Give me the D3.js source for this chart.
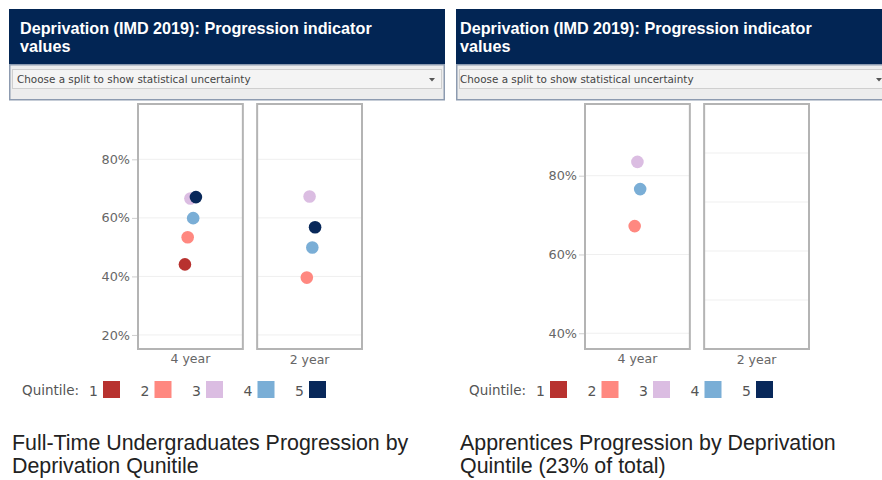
<!DOCTYPE html>
<html>
<head>
<meta charset="utf-8">
<script src="https://cdn.jsdelivr.net/npm/d3@7.9.0/dist/d3.min.js"></script>
<style>
  body { margin: 0; background: #fff; }
  svg { display: block; font-family: "Liberation Sans", Arial, sans-serif; }
  .chartfont { font-family: "DejaVu Sans", Verdana, sans-serif; }
</style>
</head>
<body>
<svg id="chart" width="882" height="480"></svg>
<script>
// quintile keys and colours
const quintiles = [1, 2, 3, 4, 5];
const quintileColors = ["#b8322f", "#ff8880", "#dbbde2", "#7aaed6", "#08285a"];
const modes = ["4 year", "2 year"];

// progression values by quintile (null = not shown)
const ftFourYear = [0.441, 0.534, 0.666, 0.599, 0.671];
const ftTwoYear = [null, 0.396, 0.673, 0.499, 0.568];
const appFourYear = [null, 0.672, 0.835, 0.766, null];
const appTwoYear = [null, null, null, null, null];

const headerText = ["Deprivation (IMD 2019): Progression indicator", "values"];
const dropdownText = "Choose a split to show statistical uncertainty";

const panels = [
  {
    x0: 9, indent: 11, selIndent: 8, titleIndent: 3,
    series: [ftFourYear, ftTwoYear],
    domain: [0.152, 0.989],
    ticks: [0.2, 0.4, 0.6, 0.8],
    shared: true,
    title: ["Full-Time Undergraduates Progression by", "Deprivation Qunitile"]
  },
  {
    x0: 456, indent: 4, selIndent: 4, titleIndent: 4,
    series: [appFourYear, appTwoYear],
    domain: [0.36, 0.982],
    ticks: [0.4, 0.6, 0.8],
    shared: false,
    title: ["Apprentices Progression by Deprivation", "Quintile (23% of total)"]
  }
];

const svg = d3.select("#chart");
const W = 436;
const plotTop = 104, plotBottom = 349;

panels.forEach(drawPanel);

function drawPanel(p) {
  const g = svg.append("g").attr("transform", `translate(${p.x0},0)`);

  // header
  g.append("rect").attr("x", 0).attr("y", 9).attr("width", W).attr("height", 55)
    .attr("fill", "#022554");
  g.selectAll("text.head").data(headerText).join("text")
    .attr("class", "head")
    .attr("x", p.indent).attr("y", (d, i) => 34 + i * 18)
    .attr("fill", "#fff").attr("font-size", 16.2).attr("font-weight", "bold")
    .text(d => d);

  // dropdown
  g.append("rect").attr("x", 0.75).attr("y", 64.75).attr("width", W - 1.5).attr("height", 35)
    .attr("fill", "#ededed").attr("stroke", "#8d9bb0").attr("stroke-width", 1.5);
  g.append("rect").attr("x", 3.5).attr("y", 69.5).attr("width", W - 7).attr("height", 19)
    .attr("fill", "#f4f4f4").attr("stroke", "#cfcfcf");
  g.append("text").attr("class", "chartfont").attr("x", p.selIndent).attr("y", 83)
    .attr("font-size", 10.4).attr("fill", "#444").text(dropdownText);
  g.append("path").attr("d", `M${W - 16},78 l6,0 l-3,3.5 z`).attr("fill", "#555");

  // facets
  const fx = d3.scaleBand().domain(modes).range([129, 353]).paddingInner(0.12);
  const dodge = d3.scalePoint().domain(quintiles).range([-5.5, 5.5]);
  const y = d3.scaleLinear().domain(p.domain).range([plotBottom, plotTop]);
  const yEmpty = d3.scaleLinear().domain([-1, 4]).range([plotBottom, plotTop]);

  modes.forEach((m, mi) => {
    const fg = g.append("g").attr("transform", `translate(${fx(m)},0)`);
    const vals = p.series[mi];
    const hasData = vals.some(v => v != null);
    const ys = (p.shared || hasData) ? y : yEmpty;
    const gridTicks = (p.shared || hasData) ? p.ticks : [0, 1, 2, 3];

    fg.selectAll("line.grid").data(gridTicks).join("line")
      .attr("class", "grid")
      .attr("x1", 0).attr("x2", fx.bandwidth())
      .attr("y1", d => ys(d)).attr("y2", d => ys(d))
      .attr("stroke", "#efefef").attr("stroke-width", 1);

    fg.append("rect").attr("x", 0).attr("y", plotTop)
      .attr("width", fx.bandwidth()).attr("height", plotBottom - plotTop)
      .attr("fill", "none").attr("stroke", "#b4b4b4").attr("stroke-width", 2);

    const pts = quintiles.map((q, i) => ({ q, i, v: vals[i] })).filter(d => d.v != null);
    fg.selectAll("circle").data(pts).join("circle")
      .attr("cx", d => fx.bandwidth() / 2 + dodge(d.q))
      .attr("cy", d => y(d.v))
      .attr("r", 6.3)
      .attr("fill", d => quintileColors[d.i]);

    fg.append("text").attr("class", "chartfont")
      .attr("x", fx.bandwidth() / 2).attr("y", 363 + mi)
      .attr("text-anchor", "middle").attr("font-size", 12.5).attr("fill", "#666")
      .text(m);
  });

  // y axis
  const axis = g.append("g").attr("transform", `translate(${fx(modes[0]) - 1},0)`)
    .call(d3.axisLeft(y).tickValues(p.ticks).tickFormat(d3.format(".0%")).tickSize(5).tickPadding(2));
  axis.select(".domain").remove();
  axis.selectAll(".tick line").attr("stroke", "#cfcfcf");
  axis.selectAll(".tick text").attr("fill", "#666").attr("font-size", 12.8)
    .attr("font-family", "'DejaVu Sans', Verdana, sans-serif");

  // legend
  const lg = g.append("g").attr("class", "chartfont");
  lg.append("text").attr("x", 13).attr("y", 395).attr("font-size", 13.5).attr("fill", "#555")
    .text("Quintile:");
  const item = lg.selectAll("g.item").data(quintiles).join("g")
    .attr("class", "item")
    .attr("transform", (d, i) => `translate(${94 + i * 51.5},0)`);
  item.append("text").attr("x", -5).attr("y", 396).attr("text-anchor", "end")
    .attr("font-size", 14).attr("fill", "#555").text(d => d);
  item.append("rect").attr("x", 0).attr("y", 381).attr("width", 17).attr("height", 17)
    .attr("fill", (d, i) => quintileColors[i]);

  // bottom title
  g.selectAll("text.title").data(p.title).join("text")
    .attr("class", "title")
    .attr("x", p.titleIndent).attr("y", (d, i) => 450 + i * 23)
    .attr("font-size", 21.4).attr("fill", "#222")
    .text(d => d);
}
</script>
</body>
</html>
